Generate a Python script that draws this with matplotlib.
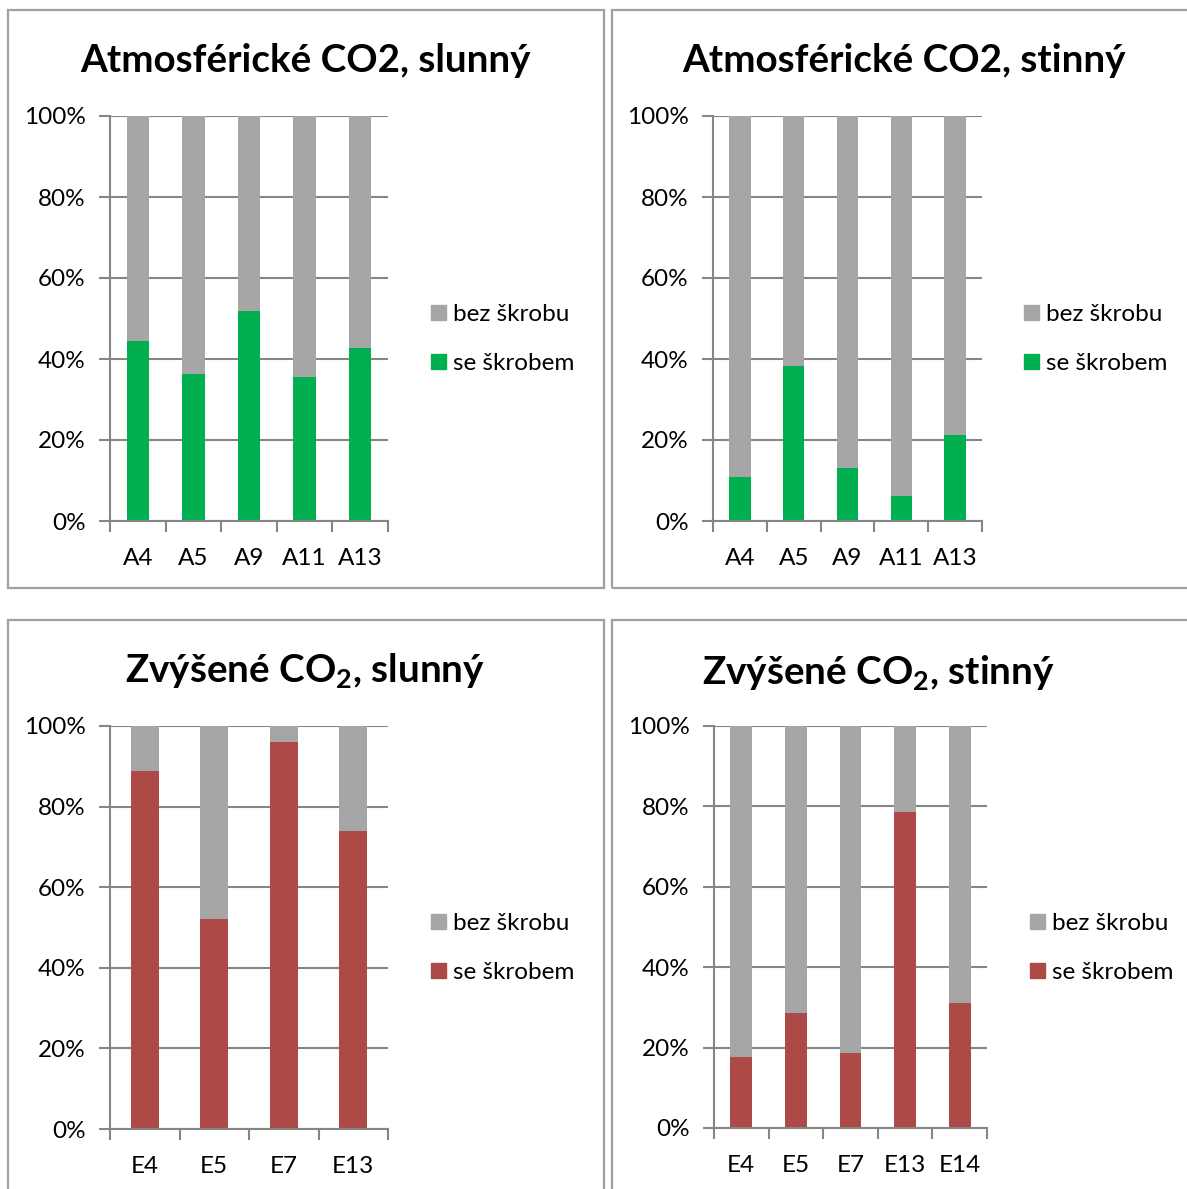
import matplotlib
matplotlib.use("Agg")
import matplotlib.pyplot as plt
from matplotlib.patches import Rectangle, Patch
from matplotlib.ticker import PercentFormatter, FixedLocator

plt.rcParams['font.family'] = ['Lato', 'DejaVu Sans']
plt.rcParams['mathtext.default'] = 'regular'

# share of stomata (guard cells) with starch per plant
atm_sun_labels = ['A4', 'A5', 'A9', 'A11', 'A13']
atm_sun_starch = [44.4, 36.4, 51.9, 35.6, 42.8]

atm_shade_labels = ['A4', 'A5', 'A9', 'A11', 'A13']
atm_shade_starch = [10.9, 38.3, 13.2, 6.2, 21.3]

elev_sun_labels = ['E4', 'E5', 'E7', 'E13']
elev_sun_starch = [88.8, 52.1, 96.0, 73.9]

elev_shade_labels = ['E4', 'E5', 'E7', 'E13', 'E14']
elev_shade_starch = [17.7, 28.6, 18.7, 78.5, 31.1]

GREEN = '#00b050'
RED = '#ad4a47'
GREY = '#a6a6a6'
LINE = '#868686'
FRAME = '#a0a0a0'

W, H = 1187, 1189
fig = plt.figure(figsize=(W / 100, H / 100), dpi=100)


def px_box(l, t, r, b):
    return [l / W, 1 - b / H, (r - l) / W, (b - t) / H]


def panel(frame, axbox, title, title_xy, labels, starch, color, legend_xy):
    fl, ft, fr, fb = frame
    fig.add_artist(Rectangle((fl / W, 1 - fb / H), (fr - fl) / W, (fb - ft) / H,
                             transform=fig.transFigure, fill=False,
                             edgecolor=FRAME, lw=1.6))
    ax = fig.add_axes(px_box(*axbox))
    x = list(range(len(labels)))
    rest = [100 - s for s in starch]
    ax.bar(x, starch, width=0.4, color=color, zorder=3)
    ax.bar(x, rest, bottom=starch, width=0.4, color=GREY, zorder=3)
    ax.set_xlim(-0.5, len(labels) - 0.5)
    ax.set_ylim(0, 100)
    ax.set_yticks(range(0, 101, 20))
    ax.yaxis.set_major_formatter(PercentFormatter(decimals=0))
    ax.set_xticks(x)
    ax.set_xticklabels(labels)
    ax.xaxis.set_minor_locator(FixedLocator([i - 0.5 for i in range(len(labels) + 1)]))
    ax.tick_params(axis='x', which='major', length=0, pad=19.5, labelsize=17.5)
    ax.tick_params(axis='x', which='minor', length=8, width=1.5, color=LINE)
    ax.tick_params(axis='y', length=8, width=1.5, color=LINE, pad=9.5, labelsize=17.5)
    ax.grid(axis='y', color=LINE, lw=1.5, zorder=0)
    for s in ['top', 'right']:
        ax.spines[s].set_visible(False)
    for s in ['left', 'bottom']:
        ax.spines[s].set_color(LINE)
        ax.spines[s].set_linewidth(1.5)
    ax.spines['bottom'].set_zorder(4)
    fig.text(title_xy[0] / W, 1 - title_xy[1] / H, title, ha='center', va='center',
             fontsize=27.8, fontweight='bold')
    handles = [Patch(color=GREY), Patch(color=color)]
    ax.legend(handles, ['bez škrobu', 'se škrobem'], loc='upper left',
              bbox_to_anchor=(legend_xy[0] / W, 1 - legend_xy[1] / H),
              bbox_transform=fig.transFigure, frameon=False, fontsize=17.5,
              handlelength=0.62, handleheight=0.62, handletextpad=0.3,
              labelspacing=1.15, borderpad=0, borderaxespad=0)
    return ax


panel((8, 10, 604, 588), (110, 116, 388, 521), 'Atmosférické CO2, slunný', (305, 61),
      atm_sun_labels, atm_sun_starch, GREEN, (431, 304))
panel((612, 10, 1195, 588), (713, 116, 982, 521), 'Atmosférické CO2, stinný', (904, 61),
      atm_shade_labels, atm_shade_starch, GREEN, (1024, 304))
panel((8, 620, 604, 1200), (110, 726, 388, 1129), 'Zvýšené CO$_2$, slunný', (305, 670),
      elev_sun_labels, elev_sun_starch, RED, (431, 913))
panel((612, 620, 1195, 1200), (714, 726, 987, 1128), 'Zvýšené CO$_2$, stinný', (878, 672),
      elev_shade_labels, elev_shade_starch, RED, (1030, 913))

fig.savefig('out.png', dpi=100)
